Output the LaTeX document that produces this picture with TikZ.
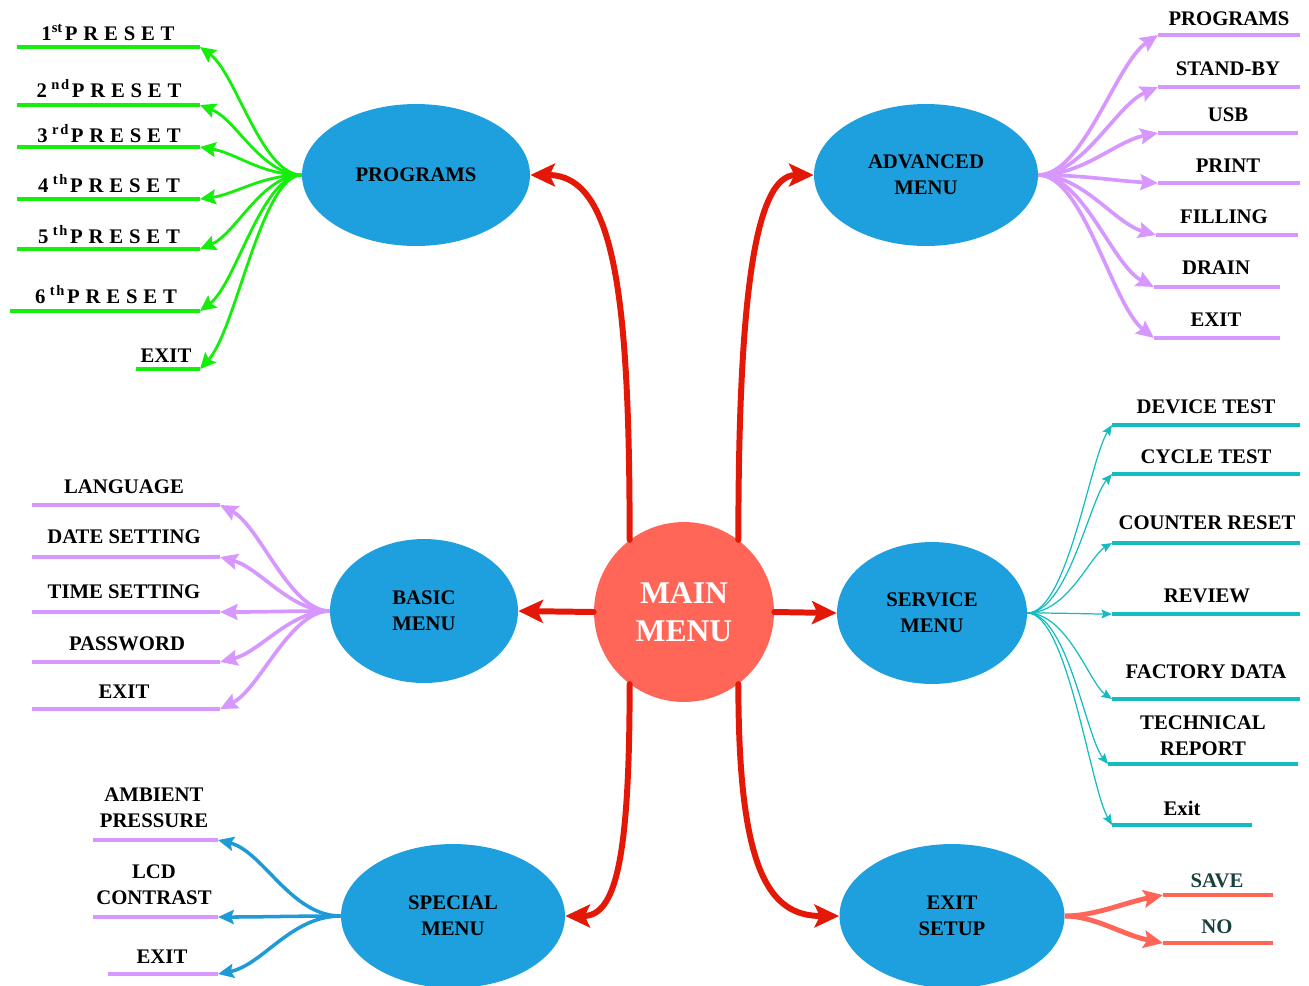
\documentclass[tikz,border=0pt]{standalone}
\usepackage{fontspec}
\setmainfont{Liberation Serif}
\newfontfamily\spacedfont[LetterSpace=28]{Liberation Serif}
\newfontfamily\supfont[LetterSpace=12]{Liberation Serif}
\usetikzlibrary{shapes.geometric,arrows.meta}

\definecolor{nodeblue}{RGB}{30,160,222}
\definecolor{hubred}{RGB}{255,102,88}
\definecolor{arrowred}{RGB}{228,24,6}
\definecolor{brgreen}{RGB}{20,238,10}
\definecolor{lilac}{RGB}{214,152,255}
\definecolor{svcteal}{RGB}{20,188,192}
\definecolor{specblue}{RGB}{30,155,215}
\definecolor{salmonline}{RGB}{255,102,88}
\definecolor{darkslate}{RGB}{24,64,60}

\newcommand\lblfont{\fontsize{11.8}{14.8}\selectfont\bfseries}
% ordinal suffix of a preset number
\newcommand\ordtight[1]{\textsuperscript{\rmfamily\bfseries #1}}
\newcommand\ordwide[1]{\hspace{2.5pt}\textsuperscript{\supfont\bfseries #1}\hspace{1pt}}

\tikzset{
  menu/.style={ellipse, fill=nodeblue, inner sep=0pt, align=center, font=\lblfont},
  lbl/.style={anchor=base, inner sep=0pt, font=\lblfont},
  lbltwo/.style={inner sep=0pt, align=center, font=\lblfont},
  preset/.style={anchor=base, inner sep=0pt, font=\spacedfont\fontsize{11.8}{14}\selectfont\bfseries},
  mainarrow/.style={draw=arrowred, line width=3.4pt, line cap=round, -{Stealth[length=14pt,width=13pt,inset=3pt]}},
  gline/.style={draw=brgreen, line width=2.8pt},
  garrow/.style={draw=brgreen, line width=1.6pt, -{Stealth[length=9pt,width=8.5pt,inset=1.5pt]}},
  lline/.style={draw=lilac, line width=2.8pt},
  larrow/.style={draw=lilac, line width=2.1pt, -{Stealth[length=10pt,width=9pt,inset=1.5pt]}},
  tline/.style={draw=svcteal, line width=2.8pt},
  tarrow/.style={draw=svcteal, line width=0.7pt, -{Stealth[length=6pt,width=5pt,inset=1pt]}},
  barrow/.style={draw=specblue, line width=2pt, -{Stealth[length=9pt,width=8pt,inset=1.5pt]}},
  sline/.style={draw=salmonline, line width=2.8pt},
  sarrow/.style={draw=salmonline, line width=2.8pt, -{Stealth[length=11pt,width=10pt,inset=2pt]}},
}

\begin{document}
\begin{tikzpicture}[x=0.02cm, y=-0.02cm]
\useasboundingbox (0,0) rectangle (1309,985);

% central hub and the six sub-menus
\node[circle, fill=hubred, minimum size=3.6cm, inner sep=0pt, text=white, align=center,
      font=\fontsize{18}{21.6}\selectfont\bfseries] (main) at (684,612) {MAIN\\MENU};
\node[menu, minimum width=4.56cm, minimum height=2.84cm] (prog)  at (416,175) {PROGRAMS};
\node[menu, minimum width=4.48cm, minimum height=2.84cm] (adv)   at (926,175) {ADVANCED\\MENU};
\node[menu, minimum width=3.76cm, minimum height=2.88cm] (basic) at (424,611) {BASIC\\MENU};
\node[menu, minimum width=3.80cm, minimum height=2.84cm] (serv)  at (932,613) {SERVICE\\MENU};
\node[menu, minimum width=4.48cm, minimum height=2.88cm] (spec)  at (453,916) {SPECIAL\\MENU};
\node[menu, minimum width=4.50cm, minimum height=2.88cm] (exitn) at (952,916) {EXIT\\SETUP};

% main menu links
\draw[mainarrow] (main.west) -- (basic.east);
\draw[mainarrow] (main.east) -- (serv.west);
\draw[mainarrow] (main.127) .. controls +(0,-240) and +(85,0) .. (prog.east);
\draw[mainarrow] (main.53)  .. controls +(0,-240) and +(-59,0) .. (adv.west);
\draw[mainarrow] (main.233) .. controls +(0,177) and +(50,0) .. (spec.east);
\draw[mainarrow] (main.307) .. controls +(0,187) and +(-70,0) .. (exitn.west);

% programs: presets
\coordinate (g1a) at (17,47);   \coordinate (g1b) at (200,47);
\coordinate (g2a) at (17,105);  \coordinate (g2b) at (200,105);
\coordinate (g3a) at (17,147);  \coordinate (g3b) at (200,147);
\coordinate (g4a) at (17,199);  \coordinate (g4b) at (200,199);
\coordinate (g5a) at (17,249);  \coordinate (g5b) at (200,249);
\coordinate (g6a) at (10,311);  \coordinate (g6b) at (200,311);
\coordinate (g7a) at (136,369); \coordinate (g7b) at (200,369);
\foreach \i in {1,...,7} \draw[gline] (g\i a) -- (g\i b);
\draw[garrow] (prog.west) .. controls +(-40,0) and +(36,26)  .. (g1b);
\draw[garrow] (prog.west) .. controls +(-40,0) and +(36,14)  .. (g2b);
\draw[garrow] (prog.west) .. controls +(-40,0) and +(36,6)   .. (g3b);
\draw[garrow] (prog.west) .. controls +(-40,0) and +(36,-5)  .. (g4b);
\draw[garrow] (prog.west) .. controls +(-40,0) and +(36,-15) .. (g5b);
\draw[garrow] (prog.west) .. controls +(-40,0) and +(36,-27) .. (g6b);
\draw[garrow] (prog.west) .. controls +(-40,0) and +(36,-39) .. (g7b);
\node[preset] (t1) at (108,40)  {1\ordtight{st}\hspace{1pt}PRESET};
\node[preset] (t2) at (109,97)  {2\ordwide{nd}PRESET};
\node[preset] (t3) at (109,142) {3\ordwide{rd}PRESET};
\node[preset] (t4) at (109,192) {4\ordwide{th}PRESET};
\node[preset] (t5) at (109,243) {5\ordwide{th}PRESET};
\node[preset] (t6) at (106,303) {6\ordwide{th}PRESET};
\node[lbl]    (t7) at (166,362) {EXIT};

% advanced menu
\coordinate (a1a) at (1158,35);  \coordinate (a1b) at (1300,35);
\coordinate (a2a) at (1158,87);  \coordinate (a2b) at (1300,87);
\coordinate (a3a) at (1158,133); \coordinate (a3b) at (1298,133);
\coordinate (a4a) at (1158,183); \coordinate (a4b) at (1300,183);
\coordinate (a5a) at (1156,235); \coordinate (a5b) at (1298,235);
\coordinate (a6a) at (1154,287); \coordinate (a6b) at (1280,287);
\coordinate (a7a) at (1154,338); \coordinate (a7b) at (1280,338);
\foreach \i in {1,...,7} \draw[lline] (a\i a) -- (a\i b);
\draw[larrow] (adv.east) .. controls +(45,0) and +(-42,28)  .. (a1a);
\draw[larrow] (adv.east) .. controls +(45,0) and +(-42,18)  .. (a2a);
\draw[larrow] (adv.east) .. controls +(45,0) and +(-42,8)   .. (a3a);
\draw[larrow] (adv.east) .. controls +(45,0) and +(-42,-2)  .. (a4a);
\draw[larrow] (adv.east) .. controls +(45,0) and +(-42,-12) .. (a5a);
\draw[larrow] (adv.east) .. controls +(45,0) and +(-42,-22) .. (a6a);
\draw[larrow] (adv.east) .. controls +(45,0) and +(-42,-33) .. (a7a);
\node[lbl] (u1) at (1229,25)  {PROGRAMS};
\node[lbl] (u2) at (1228,75)  {STAND-BY};
\node[lbl] (u3) at (1228,121) {USB};
\node[lbl] (u4) at (1228,172) {PRINT};
\node[lbl] (u5) at (1224,223) {FILLING};
\node[lbl] (u6) at (1216,274) {DRAIN};
\node[lbl] (u7) at (1216,326) {EXIT};

% basic menu
\coordinate (b1a) at (32,505); \coordinate (b1b) at (220,505);
\coordinate (b2a) at (32,557); \coordinate (b2b) at (220,557);
\coordinate (b3a) at (32,612); \coordinate (b3b) at (220,612);
\coordinate (b4a) at (32,662); \coordinate (b4b) at (220,662);
\coordinate (b5a) at (32,709); \coordinate (b5b) at (220,709);
\foreach \i in {1,...,5} \draw[lline] (b\i a) -- (b\i b);
\draw[larrow] (basic.west) .. controls +(-40,0) and +(40,21)  .. (b1b);
\draw[larrow] (basic.west) .. controls +(-40,0) and +(40,11)  .. (b2b);
\draw[larrow] (basic.west) .. controls +(-40,0) and +(40,0)   .. (b3b);
\draw[larrow] (basic.west) .. controls +(-40,0) and +(40,-10) .. (b4b);
\draw[larrow] (basic.west) .. controls +(-40,0) and +(40,-20) .. (b5b);
\node[lbl] (v1) at (124,493) {LANGUAGE};
\node[lbl] (v2) at (124,543) {DATE SETTING};
\node[lbl] (v3) at (124,598) {TIME SETTING};
\node[lbl] (v4) at (127,650) {PASSWORD};
\node[lbl] (v5) at (124,698) {EXIT};

% service menu
\coordinate (s1a) at (1112,425); \coordinate (s1b) at (1300,425);
\coordinate (s2a) at (1112,474); \coordinate (s2b) at (1300,474);
\coordinate (s3a) at (1112,543); \coordinate (s3b) at (1300,543);
\coordinate (s4a) at (1112,614); \coordinate (s4b) at (1300,614);
\coordinate (s5a) at (1112,699); \coordinate (s5b) at (1300,699);
\coordinate (s6a) at (1108,764); \coordinate (s6b) at (1298,764);
\coordinate (s7a) at (1112,825); \coordinate (s7b) at (1252,825);
\foreach \i in {1,...,7} \draw[tline] (s\i a) -- (s\i b);
\draw[tarrow] (serv.east) .. controls +(40,0) and +(-22,34)  .. (s1a);
\draw[tarrow] (serv.east) .. controls +(40,0) and +(-22,25)  .. (s2a);
\draw[tarrow] (serv.east) .. controls +(40,0) and +(-22,13)  .. (s3a);
\draw[tarrow] (serv.east) .. controls +(40,0) and +(-22,0)   .. (s4a);
\draw[tarrow] (serv.east) .. controls +(40,0) and +(-22,-15) .. (s5a);
\draw[tarrow] (serv.east) .. controls +(40,0) and +(-22,-27) .. (s6a);
\draw[tarrow] (serv.east) .. controls +(40,0) and +(-22,-38) .. (s7a);
\node[lbl]    (w1) at (1206,413) {DEVICE TEST};
\node[lbl]    (w2) at (1206,463) {CYCLE TEST};
\node[lbl]    (w3) at (1207,529) {COUNTER RESET};
\node[lbl]    (w4) at (1207,602) {REVIEW};
\node[lbl]    (w5) at (1206,678) {FACTORY DATA};
\node[lbltwo] (w6) at (1203,736) {TECHNICAL\\REPORT};
\node[lbl]    (w7) at (1182,815) {Exit};

% special menu
\coordinate (p1a) at (93,840);  \coordinate (p1b) at (218,840);
\coordinate (p2a) at (93,917);  \coordinate (p2b) at (218,917);
\coordinate (p3a) at (108,974); \coordinate (p3b) at (218,974);
\foreach \i in {1,2,3} \draw[lline] (p\i a) -- (p\i b);
\draw[barrow] (spec.west) .. controls +(-50,0) and +(45,11) .. (p1b);
\draw[barrow] (spec.west) .. controls +(-50,0) and +(45,0)  .. (p2b);
\draw[barrow] (spec.west) .. controls +(-50,0) and +(45,-9) .. (p3b);
\node[lbltwo] (x1) at (154,808) {AMBIENT\\PRESSURE};
\node[lbltwo] (x2) at (154,885) {LCD\\CONTRAST};
\node[lbl]    (x3) at (162,963) {EXIT};

% exit setup
\coordinate (e1a) at (1163,895); \coordinate (e1b) at (1273,895);
\coordinate (e2a) at (1163,943); \coordinate (e2b) at (1273,943);
\draw[sline] (e1a) -- (e1b);
\draw[sline] (e2a) -- (e2b);
\draw[sarrow] (exitn.east) .. controls +(30,0) and +(-40,8)  .. (e1a);
\draw[sarrow] (exitn.east) .. controls +(30,0) and +(-40,-8) .. (e2a);
\node[lbl, text=darkslate] (y1) at (1217,887) {SAVE};
\node[lbl, text=darkslate] (y2) at (1217,933) {NO};
\end{tikzpicture}
\end{document}
